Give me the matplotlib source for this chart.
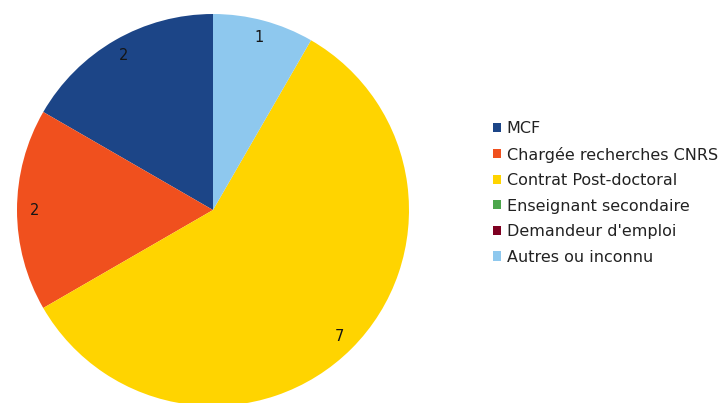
import matplotlib.pyplot as plt

# Données
categories = ['MCF', 'Chargée recherches CNRS', 'Contrat Post-doctoral',
              'Enseignant secondaire', "Demandeur d'emploi", 'Autres ou inconnu']
effectifs = [2, 2, 7, 0, 0, 1]
couleurs = ['#1c4587', '#f0501e', '#ffd400', '#4ca64c', '#7e0021', '#8ec8ee']

total = sum(effectifs)

plt.rcParams['font.family'] = ['DejaVu Sans']

fig = plt.figure(figsize=(7.25, 4.03), dpi=100)
# axe carré du camembert (centre ~ (213, 210) px, rayon ~196 px)
ax = fig.add_axes([17 / 725, -3 / 403, 392 / 725, 392 / 403])

wedges, texts, autotexts = ax.pie(
    effectifs, colors=couleurs, startangle=90, counterclock=True,
    autopct=lambda p: '%d' % round(p * total / 100) if p > 0 else '',
    pctdistance=0.91, radius=1,
    textprops={'fontsize': 10.5, 'color': '#151515'})
ax.set_xlim(-1, 1)
ax.set_ylim(-1, 1)
ax.set_aspect('equal')
ax.axis('off')

fig.legend(wedges, categories, loc='upper left', bbox_to_anchor=(485 / 725, 1 - 113 / 403),
           frameon=False, fontsize=11.5, handlelength=0.5, handleheight=0.5,
           handletextpad=0.35, labelspacing=0.66, borderpad=0,
           labelcolor='#222222')

plt.savefig('out.png', dpi=100)
